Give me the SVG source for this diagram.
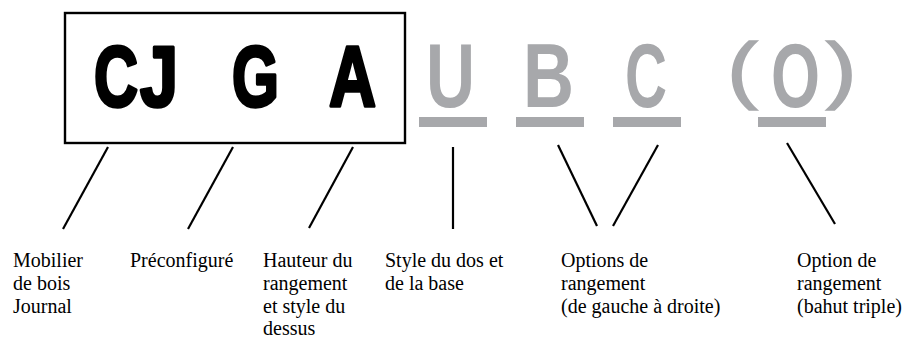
<svg xmlns="http://www.w3.org/2000/svg" width="913" height="337" viewBox="0 0 913 337">
<style>
.big{font-family:"Liberation Sans",Arial,sans-serif;font-weight:bold;}
.blk{fill:#000;stroke:#000;stroke-width:3.5;stroke-linejoin:round;font-size:86px;}
.gry{fill:#a7a8ab;font-size:91px;}
.par{fill:#a7a8ab;font-size:73.5px;font-family:"Liberation Sans",Arial,sans-serif;font-weight:normal;stroke:#a7a8ab;stroke-width:1.5;}
.bar{fill:#a7a8ab;}
.lbl{font-family:"Liberation Serif","Times New Roman",serif;font-size:20px;fill:#000;}
.con line{stroke:#000;stroke-width:2.2;}
</style>
<rect width="913" height="337" fill="#fff"/>
<g id="code-box">
<rect x="65" y="13" width="340" height="130" fill="none" stroke="#000" stroke-width="2.4"/>
<text class="big blk" transform="translate(94,105.5) scale(0.709,1)">C</text>
<text class="big blk" transform="translate(140,105.5) scale(0.795,1)">J</text>
<text class="big blk" transform="translate(232,105.5) scale(0.702,1)">G</text>
<text class="big blk" transform="translate(329,105.5) scale(0.757,1)">A</text>
</g>
<g id="code-U">
<text class="big gry" transform="translate(426,107) scale(0.746,1)">U</text>
<rect class="bar" x="419" y="117" width="68" height="10"/>
</g>
<g id="code-B">
<text class="big gry" transform="translate(523,107) scale(0.776,1)">B</text>
<rect class="bar" x="516" y="117" width="68" height="10"/>
</g>
<g id="code-C">
<text class="big gry" transform="translate(625,107) scale(0.639,1)">C</text>
<rect class="bar" x="613" y="117" width="68" height="10"/>
</g>
<g id="code-O">
<text class="par" transform="translate(727,95) scale(1.25,1)">(</text>
<text class="big gry" transform="translate(771,107) scale(0.692,1)">O</text>
<text class="par" transform="translate(826,95) scale(1.25,1)">)</text>
<rect class="bar" x="758" y="117" width="68" height="10"/>
</g>
<g id="connectors" class="con">
<line x1="108" y1="147" x2="63" y2="229"/>
<line x1="233" y1="147" x2="188" y2="229"/>
<line x1="353" y1="147" x2="309" y2="228"/>
<line x1="453" y1="147" x2="453" y2="229"/>
<line x1="558" y1="145" x2="597" y2="226"/>
<line x1="658" y1="145" x2="613" y2="226"/>
<line x1="787" y1="143" x2="835" y2="224"/>
</g>
<g id="label-mobilier">
<text class="lbl" x="13" y="267">Mobilier</text>
<text class="lbl" x="13" y="290">de bois</text>
<text class="lbl" x="13" y="313">Journal</text>
</g>
<g id="label-preconfigure">
<text class="lbl" x="130" y="267">Préconfiguré</text>
</g>
<g id="label-hauteur">
<text class="lbl" x="263" y="267">Hauteur du</text>
<text class="lbl" x="263" y="290">rangement</text>
<text class="lbl" x="263" y="313">et style du</text>
<text class="lbl" x="263" y="335">dessus</text>
</g>
<g id="label-style">
<text class="lbl" x="385" y="267">Style du dos et</text>
<text class="lbl" x="385" y="290">de la base</text>
</g>
<g id="label-options">
<text class="lbl" x="561" y="267">Options de</text>
<text class="lbl" x="561" y="290">rangement</text>
<text class="lbl" x="561" y="313">(de gauche à droite)</text>
</g>
<g id="label-option">
<text class="lbl" x="797" y="267">Option de</text>
<text class="lbl" x="797" y="290">rangement</text>
<text class="lbl" x="797" y="313">(bahut triple)</text>
</g>
</svg>
